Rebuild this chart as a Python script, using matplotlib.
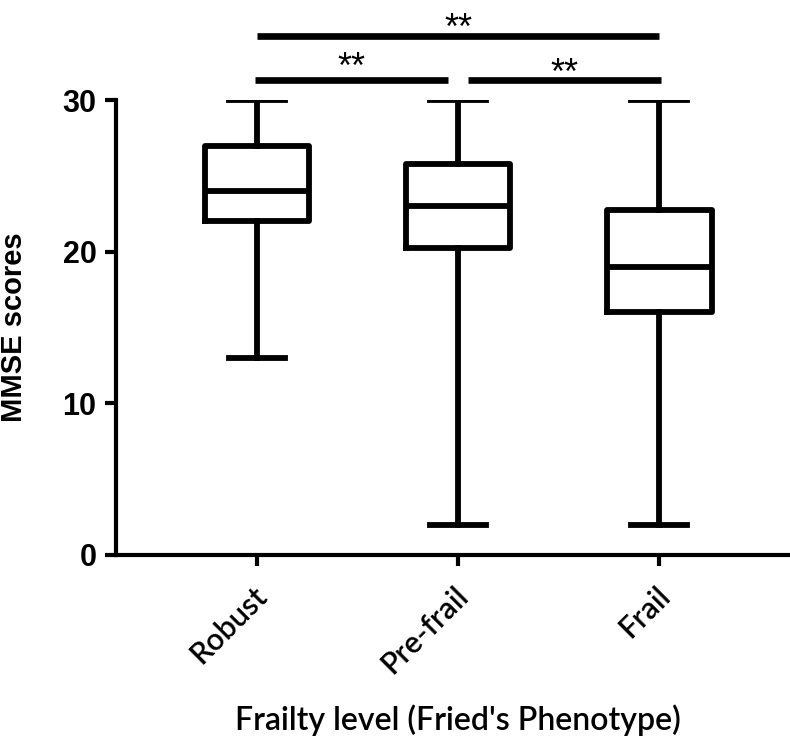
import matplotlib
matplotlib.use("Agg")
import matplotlib.pyplot as plt
import matplotlib.transforms as mtransforms

# five-number summaries
groups = ["Robust", "Pre-frail", "Frail"]
whislo = [13, 2, 2]
q1 = [22, 20.25, 16]
med = [24, 23, 19]
q3 = [27, 25.75, 22.75]
whishi = [30, 30, 30]

# pairwise comparisons (group index pairs) and their labels
pairs = [(0, 1), (1, 2), (0, 2)]
sig_labels = ["**", "**", "**"]

fig = plt.figure(figsize=(7.9, 7.42), dpi=100)
ax = fig.add_axes([116 / 790, 1 - 555 / 742, 674 / 790, 455 / 742])

stats = [
    dict(label=g, whislo=lo, q1=a, med=m, q3=b, whishi=hi)
    for g, lo, a, m, b, hi in zip(groups, whislo, q1, med, q3, whishi)
]
pos = [1, 2, 3]
lw = 4.2
ax.bxp(
    stats,
    positions=pos,
    widths=0.52,
    capwidths=0.28,
    showfliers=False,
    boxprops=dict(color="black", linewidth=lw),
    whiskerprops=dict(color="black", linewidth=lw),
    capprops=dict(color="black", linewidth=lw),
    medianprops=dict(color="black", linewidth=lw),
)

ax.set_xlim(0.3, 3.65)
ax.set_ylim(0, 30)
ax.set_yticks([0, 10, 20, 30])
ax.spines["top"].set_visible(False)
ax.spines["right"].set_visible(False)
for s in ["left", "bottom"]:
    ax.spines[s].set_linewidth(3)
    ax.spines[s].set_capstyle("projecting")

ax.tick_params(axis="both", direction="out", length=8, width=3)
ax.tick_params(axis="y", labelsize=22, pad=6)
for t in ax.get_yticklabels():
    t.set_fontweight("bold")
    t.set_fontfamily("Liberation Sans")

ax.set_xticks(pos)
ax.set_xticklabels(groups, rotation=45, ha="right", va="top",
                   rotation_mode="anchor", fontsize=22, fontfamily="Lato",
                   fontweight="semibold")
ax.tick_params(axis="x", pad=11)
shift = mtransforms.ScaledTranslation(-4 / 100, 0, fig.dpi_scale_trans)
for t in ax.get_xticklabels():
    t.set_transform(t.get_transform() + shift)

ax.set_ylabel("MMSE scores", fontsize=21, fontweight="bold",
              fontfamily="Liberation Sans")
ax.yaxis.set_label_coords((28 - 116) / 674, 0.5)
ax.set_xlabel("Frailty level (Fried's Phenotype)", fontsize=23,
              fontfamily="Lato", fontweight="semibold", va="center")
ax.xaxis.set_label_coords((458 - 116) / 674, (555 - 720) / 455)

# significance bars above the plot
bar_y = {(0, 1): 31.3, (1, 2): 31.3, (0, 2): 34.2}
star_y = {(0, 1): 31.45, (1, 2): 31.05, (0, 2): 34.0}
for (i, j), lab in zip(pairs, sig_labels):
    x0, x1 = pos[i], pos[j]
    if j - i == 1:
        x0 += 0.05 if i > 0 else -0.01
        x1 -= 0.05 if j < 2 else -0.01
    y = bar_y[(i, j)]
    ax.plot([x0, x1], [y, y], color="black", linewidth=4.8, clip_on=False,
            solid_capstyle="butt")
    ax.text((x0 + x1) / 2, star_y[(i, j)], lab, ha="center", va="baseline",
            fontsize=26, fontfamily="Liberation Sans", clip_on=False)

fig.savefig("out.png", dpi=100)
